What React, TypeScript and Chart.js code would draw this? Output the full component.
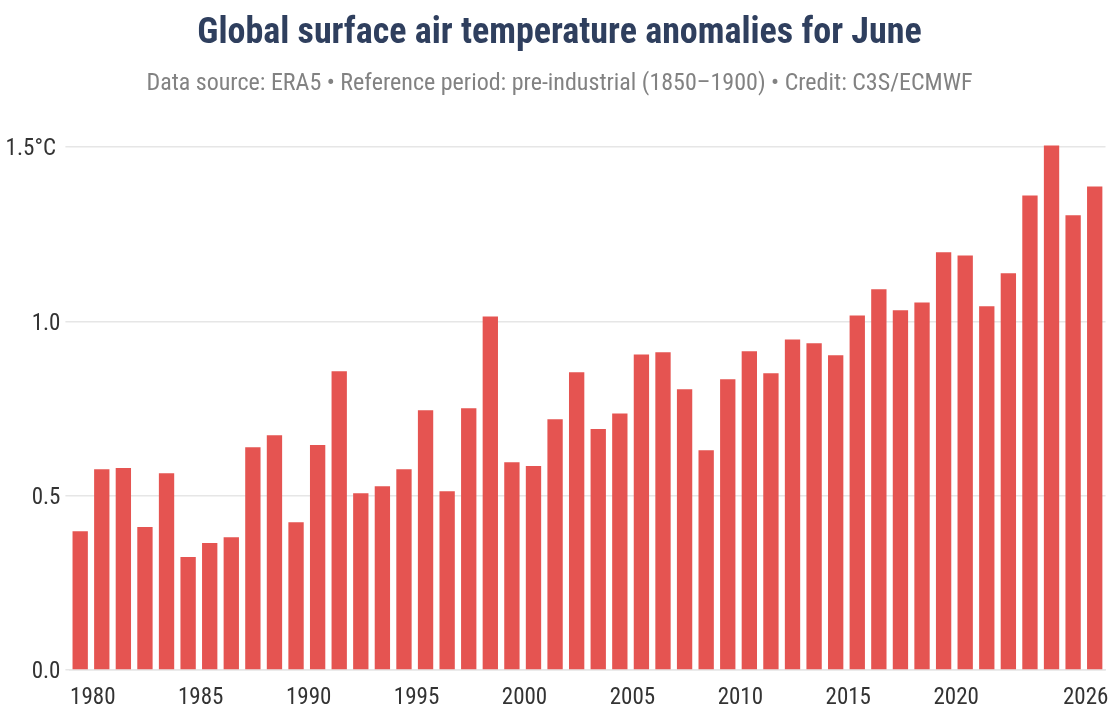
import { useEffect, useRef } from 'react';
import { Chart, registerables } from 'chart.js';

Chart.register(...registerables);

const years = [
  1979, 1980, 1981, 1982, 1983, 1984, 1985, 1986, 1987, 1988, 1989, 1990, 1991, 1992, 1993, 1994,
  1995, 1996, 1997, 1998, 1999, 2000, 2001, 2002, 2003, 2004, 2005, 2006, 2007, 2008, 2009, 2010,
  2011, 2012, 2013, 2014, 2015, 2016, 2017, 2018, 2019, 2020, 2021, 2022, 2023, 2024, 2025, 2026,
];
const anomalies = [
  0.398, 0.576, 0.579, 0.41, 0.564, 0.324, 0.364, 0.381, 0.639, 0.673, 0.424, 0.645, 0.857, 0.507,
  0.527, 0.576, 0.745, 0.513, 0.751, 1.014, 0.596, 0.585, 0.719, 0.854, 0.691, 0.736, 0.905, 0.911,
  0.805, 0.63, 0.834, 0.914, 0.851, 0.948, 0.937, 0.903, 1.017, 1.092, 1.032, 1.054, 1.198, 1.189,
  1.043, 1.138, 1.361, 1.504, 1.304, 1.387,
];
const labelledYears = [1980, 1985, 1990, 1995, 2000, 2005, 2010, 2015, 2020, 2026];

const FONT = '"Roboto Condensed", Roboto, sans-serif';

// no condensed face by name, so ask the canvas for the narrow width
const condensed = {
  id: 'condensed',
  beforeInit: (chart: Chart) => {
    (chart.ctx as any).fontStretch = 'condensed';
  },
  beforeDraw: (chart: Chart) => {
    (chart.ctx as any).fontStretch = 'condensed';
  },
};

export default function App() {
  const canvasRef = useRef<HTMLCanvasElement | null>(null);

  useEffect(() => {
    if (!canvasRef.current) return;

    const chart = new Chart(canvasRef.current, {
      type: 'bar',
      data: {
        labels: years,
        datasets: [
          {
            data: anomalies,
            backgroundColor: '#e55451',
            barPercentage: 0.71,
            categoryPercentage: 1,
            clip: false,
          },
        ],
      },
      options: {
        responsive: false,
        animation: false,
        layout: { padding: { top: 11.9, right: 0, left: 0, bottom: 0 } },
        plugins: {
          legend: { display: false },
          tooltip: { enabled: false },
          title: {
            display: true,
            text: 'Global surface air temperature anomalies for June',
            color: '#2f3f5e',
            font: { family: FONT, size: 36, weight: 'bold' },
            padding: { top: 0, bottom: 14.5 },
          },
          subtitle: {
            display: true,
            text: 'Data source: ERA5 • Reference period: pre-industrial (1850–1900) • Credit: C3S/ECMWF',
            color: '#828282',
            font: { family: FONT, size: 24 },
            padding: { top: 0, bottom: 48.6 },
          },
        },
        scales: {
          x: {
            afterFit: (scale) => {
              scale.height = 54;
              scale.paddingLeft = 0;
              // keeps the plot short of the right edge without moving the centred title
              scale.paddingRight = 13.5;
            },
            border: { color: '#e6e6e6', width: 1.5 },
            grid: { display: false },
            ticks: {
              autoSkip: false,
              maxRotation: 0,
              labelOffset: -9,
              padding: 6,
              color: '#333333',
              font: { family: FONT, size: 23 },
              callback: function (value) {
                const year = years[value as number];
                return labelledYears.includes(year) ? String(year) : '';
              },
            },
          },
          y: {
            min: 0,
            max: 1.5,
            afterFit: (scale) => {
              scale.width = 69.4;
              scale.paddingTop = 0;
              scale.paddingBottom = 0;
            },
            border: { display: false },
            grid: { color: '#e6e6e6', lineWidth: 1.5, tickLength: 4 },
            afterBuildTicks: (scale) => {
              scale.ticks = [{ value: 0 }, { value: 0.5 }, { value: 1 }, { value: 1.5 }];
            },
            ticks: {
              padding: 5,
              labelOffset: 2.5,
              color: '#333333',
              font: { family: FONT, size: 23 },
              callback: (value) => (value === 1.5 ? '1.5°C\u2009' : Number(value).toFixed(1)),
            },
          },
        },
      },
      plugins: [condensed],
    });

    return () => {
      chart.destroy();
    };
  }, []);

  return (
    <div style={{ position: 'absolute', left: 0, top: 0, width: 1119, height: 724, background: '#fff' }}>
      <canvas ref={canvasRef} width={1119} height={724} />
    </div>
  );
}
